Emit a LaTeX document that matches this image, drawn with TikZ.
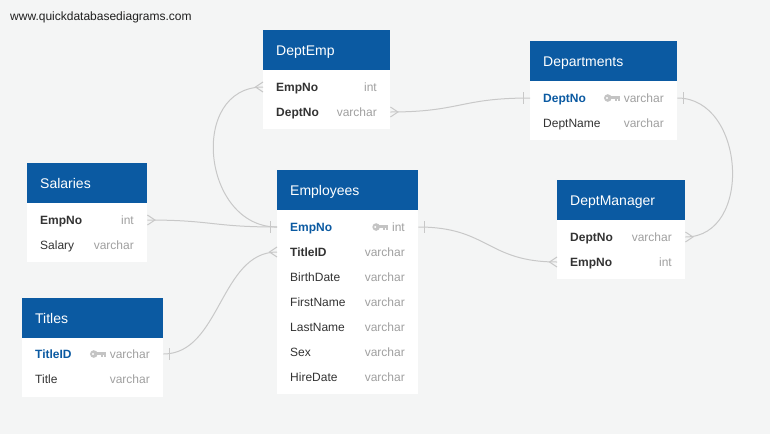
\documentclass[tikz,border=0pt]{standalone}
\usepackage{fontspec}
\setmainfont{Liberation Sans}
\definecolor{bgcol}{RGB}{244,245,245}
\definecolor{hdrblue}{RGB}{11,90,162}
\definecolor{pkblue}{RGB}{11,90,162}
\definecolor{namecol}{RGB}{51,51,51}
\definecolor{typecol}{RGB}{160,160,160}
\definecolor{conncol}{RGB}{200,200,200}
\definecolor{keycol}{RGB}{196,196,196}
\tikzset{
  hdrbox/.style={fill=hdrblue, draw=none, minimum height=40pt, inner sep=0pt},
  hdrtxt/.style={text=white, inner sep=0pt, font=\fontsize{14}{16}\selectfont},
  bodybox/.style={fill=white, draw=none, inner sep=0pt},
  rowarea/.style={draw=none, inner sep=0pt, minimum height=25pt},
  fname/.style={text=namecol, inner sep=0pt, font=\fontsize{12}{14}\selectfont},
  fkname/.style={text=namecol, inner sep=0pt, font=\fontsize{12}{14}\selectfont\bfseries},
  pkname/.style={text=pkblue, inner sep=0pt, font=\fontsize{12}{14}\selectfont\bfseries},
  ftype/.style={text=typecol, inner sep=0pt, font=\fontsize{12}{14}\selectfont},
  conn/.style={draw=conncol, line width=1pt},
  crowleft/.pic={\draw[conn] (0,-5) -- (-7.5,0) -- (0,5);},
  crowright/.pic={\draw[conn] (0,-5) -- (7.5,0) -- (0,5);},
  barleft/.pic={\draw[conn] (-6.5,-6) -- (-6.5,6);},
  barright/.pic={\draw[conn] (6.5,-6) -- (6.5,6);},
  keyicon/.pic={
    \fill[keycol] (-11.8,0) circle[radius=3.8];
    \fill[white] (-12.6,0) circle[radius=1.1];
    \fill[keycol] (-9,-2) rectangle (0,1.2);
    \fill[keycol] (-4.6,0) rectangle (-2.6,3.4);
    \fill[keycol] (-1.9,0) rectangle (0,3.4);
  }
}
% #1 name, #2 left, #3 top, #4 right, #5 title, #6 number of rows
\newcommand\erdtable[6]{%
  \node[bodybox, minimum width={#4-#2}, minimum height={40+21+25*(#6-1)+13}, anchor=north west] (#1) at (#2,#3) {};
  \node[hdrbox, minimum width={#4-#2}, anchor=north west] (#1-h) at (#2,#3) {};
  \node[hdrtxt, anchor=base west] (#1-title) at (#2+13,#3+25) {#5};
}
% #1 name, #2 left, #3 right, #4 baseline, #5 label, #6 type, #7 style
\newcommand\erdrow[7]{%
  \node[rowarea, minimum width={#3-#2}, anchor=west] (#1) at (#2,#4-4) {};
  \node[#7, anchor=base west] (#1-n) at (#2+13,#4) {#5};
  \node[ftype, anchor=base east] (#1-t) at (#3-13,#4) {#6};
}
\newcommand\erdkey[1]{%
  \pic at ([xshift=-4pt,yshift=4pt]#1-t.base west) {keyicon};
}
\begin{document}
\begin{tikzpicture}[x=1pt,y=-1pt]
\fill[bgcol] (0,0) rectangle (770,434);
\useasboundingbox (0,0) rectangle (770,434);
\node[anchor=base west, inner sep=0pt, text=black!88, font=\fontsize{12}{14}\selectfont] (wm) at (10,20) {www.quickdatabasediagrams.com};

% DeptEmp
\erdtable{de}{263}{30}{390}{DeptEmp}{2}
\erdrow{de-EmpNo}{263}{390}{91}{EmpNo}{int}{fkname}
\erdrow{de-DeptNo}{263}{390}{116}{DeptNo}{varchar}{fkname}

% Departments
\erdtable{dep}{530}{41}{677}{Departments}{2}
\erdrow{dep-DeptNo}{530}{677}{102}{DeptNo}{varchar}{pkname}
\erdkey{dep-DeptNo}
\erdrow{dep-DeptName}{530}{677}{127}{DeptName}{varchar}{fname}

% Salaries
\erdtable{sal}{27}{163}{147}{Salaries}{2}
\erdrow{sal-EmpNo}{27}{147}{224}{EmpNo}{int}{fkname}
\erdrow{sal-Salary}{27}{147}{249}{Salary}{varchar}{fname}

% Employees
\erdtable{emp}{277}{170}{418}{Employees}{7}
\erdrow{emp-EmpNo}{277}{418}{231}{EmpNo}{int}{pkname}
\erdkey{emp-EmpNo}
\erdrow{emp-TitleID}{277}{418}{256}{TitleID}{varchar}{fkname}
\erdrow{emp-BirthDate}{277}{418}{281}{BirthDate}{varchar}{fname}
\erdrow{emp-FirstName}{277}{418}{306}{FirstName}{varchar}{fname}
\erdrow{emp-LastName}{277}{418}{331}{LastName}{varchar}{fname}
\erdrow{emp-Sex}{277}{418}{356}{Sex}{varchar}{fname}
\erdrow{emp-HireDate}{277}{418}{381}{HireDate}{varchar}{fname}

% DeptManager
\erdtable{dm}{557}{180}{685}{DeptManager}{2}
\erdrow{dm-DeptNo}{557}{685}{241}{DeptNo}{varchar}{fkname}
\erdrow{dm-EmpNo}{557}{685}{266}{EmpNo}{int}{fkname}

% Titles
\erdtable{tit}{22}{298}{163}{Titles}{2}
\erdrow{tit-TitleID}{22}{163}{358}{TitleID}{varchar}{pkname}
\erdkey{tit-TitleID}
\erdrow{tit-Title}{22}{163}{383}{Title}{varchar}{fname}

% Connectors
\draw[conn] (de-EmpNo.west) .. controls +(-75,0) and +(-75,0) .. (emp-EmpNo.west);
\pic at (de-EmpNo.west) {crowleft};
\pic at (emp-EmpNo.west) {barleft};

\draw[conn] (de-DeptNo.east) .. controls +(70,0) and +(-70,0) .. (dep-DeptNo.west);
\pic at (de-DeptNo.east) {crowright};
\pic at (dep-DeptNo.west) {barleft};

\draw[conn] (dep-DeptNo.east) .. controls +(68,0) and +(68,0) .. (dm-DeptNo.east);
\pic at (dep-DeptNo.east) {barright};
\pic at (dm-DeptNo.east) {crowright};

\draw[conn] (sal-EmpNo.east) .. controls +(65,0) and +(-65,0) .. (emp-EmpNo.west);
\pic at (sal-EmpNo.east) {crowright};

\draw[conn] (tit-TitleID.east) .. controls +(57,0) and +(-57,0) .. (emp-TitleID.west);
\pic at (tit-TitleID.east) {barright};
\pic at (emp-TitleID.west) {crowleft};

\draw[conn] (emp-EmpNo.east) .. controls +(70,0) and +(-70,0) .. (dm-EmpNo.west);
\pic at (emp-EmpNo.east) {barright};
\pic at (dm-EmpNo.west) {crowleft};
\end{tikzpicture}
\end{document}
